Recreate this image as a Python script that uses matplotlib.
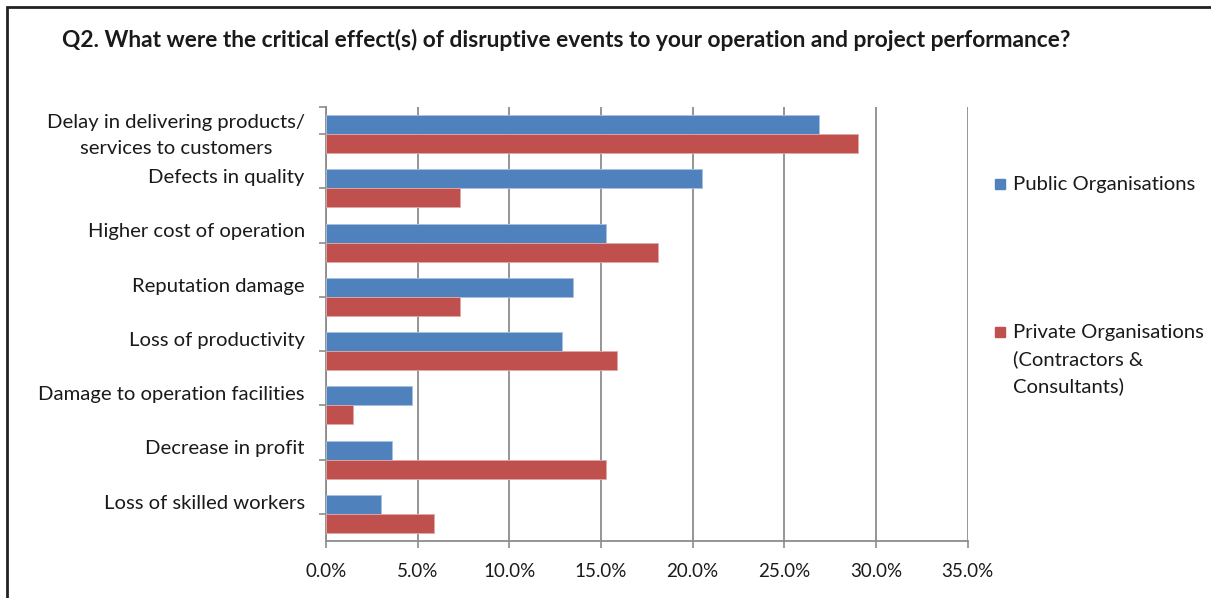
import numpy as np
import matplotlib
matplotlib.use('Agg')
import matplotlib.pyplot as plt
from matplotlib.patches import Rectangle
from matplotlib.ticker import MultipleLocator, PercentFormatter

plt.rcParams['font.family'] = ['Lato', 'DejaVu Sans']

# categories, top to bottom as in the chart
effects = ['Delay in delivering products/\nservices to customers',
           'Defects in quality',
           'Higher cost of operation',
           'Reputation damage',
           'Loss of productivity',
           'Damage to operation facilities',
           'Decrease in profit',
           'Loss of skilled workers']
public_pct = [26.9, 20.5, 15.3, 13.5, 12.9, 4.7, 3.6, 3.0]
private_pct = [29.0, 7.3, 18.1, 7.3, 15.9, 1.5, 15.3, 5.9]
series_names = ['Public Organisations',
                'Private Organisations\n(Contractors &\nConsultants)']

BLUE = '#4F81BD'
RED = '#C0504D'
GRID = '#8C8C8C'
TXT = '#1a1a1a'
LAB_FS = 14.6

fig = plt.figure(figsize=(12.11, 5.98), dpi=100)
ax = fig.add_axes([326 / 1211, 57 / 598, 641.5 / 1211, 434 / 598])

y = np.arange(len(effects))
h = 0.35
ax.barh(y - h / 2, public_pct, height=h, color=BLUE, edgecolor='#a9c1e0', linewidth=0.6, zorder=3)
ax.barh(y + h / 2, private_pct, height=h, color=RED, edgecolor='#e0a9a8', linewidth=0.6, zorder=3)

ax.set_xlim(0, 35)
ax.set_ylim(len(effects) - 0.5, -0.5)
ax.xaxis.set_major_locator(MultipleLocator(5))
ax.xaxis.set_major_formatter(PercentFormatter(decimals=1))
ax.grid(axis='x', color=GRID, linewidth=1.3, zorder=0)

for s in ['top', 'right']:
    ax.spines[s].set_visible(False)
for s in ['left', 'bottom']:
    ax.spines[s].set_color(GRID)
    ax.spines[s].set_linewidth(1.3)

ax.set_yticks(list(y) + [-0.5])
ax.set_yticklabels([])
ax.tick_params(axis='y', length=5, width=1.2, color=GRID)
ax.tick_params(axis='x', length=5, width=1.2, color=GRID, labelsize=13.5, labelcolor=TXT, pad=11)

# category labels, right-aligned left of the axis
for i, lab in enumerate(effects):
    off = 0.03 if '\n' in lab else -0.2
    ax.text(-0.033, i + off, lab, transform=ax.get_yaxis_transform(),
            ha='right', va='center', multialignment='center',
            fontsize=LAB_FS, color=TXT, linespacing=1.65)

fig.text(62 / 1211, 1 - 40 / 598,
         'Q2. What were the critical effect(s) of disruptive events to your operation and project performance?',
         fontsize=16.4, fontweight='bold', color=TXT, va='center', ha='left')

# legend
leg_y = [184, 332]
for col, name, ly in zip([BLUE, RED], series_names, leg_y):
    fig.patches.append(Rectangle((995 / 1211, 1 - (ly + 5) / 598), 10 / 1211, 10 / 598,
                                 transform=fig.transFigure, color=col))
    fig.text(1013 / 1211, 1 - (ly - 8) / 598, name, fontsize=LAB_FS, color=TXT,
             va='top', ha='left', linespacing=1.6)

# chart border (cropped at right and bottom)
fig.patches.append(Rectangle((7 / 1211, -0.1), 1.2, 1 - 7 / 598 + 0.1, transform=fig.transFigure,
                             fill=False, edgecolor='#222222', linewidth=2))

fig.savefig('out.png', dpi=100)
